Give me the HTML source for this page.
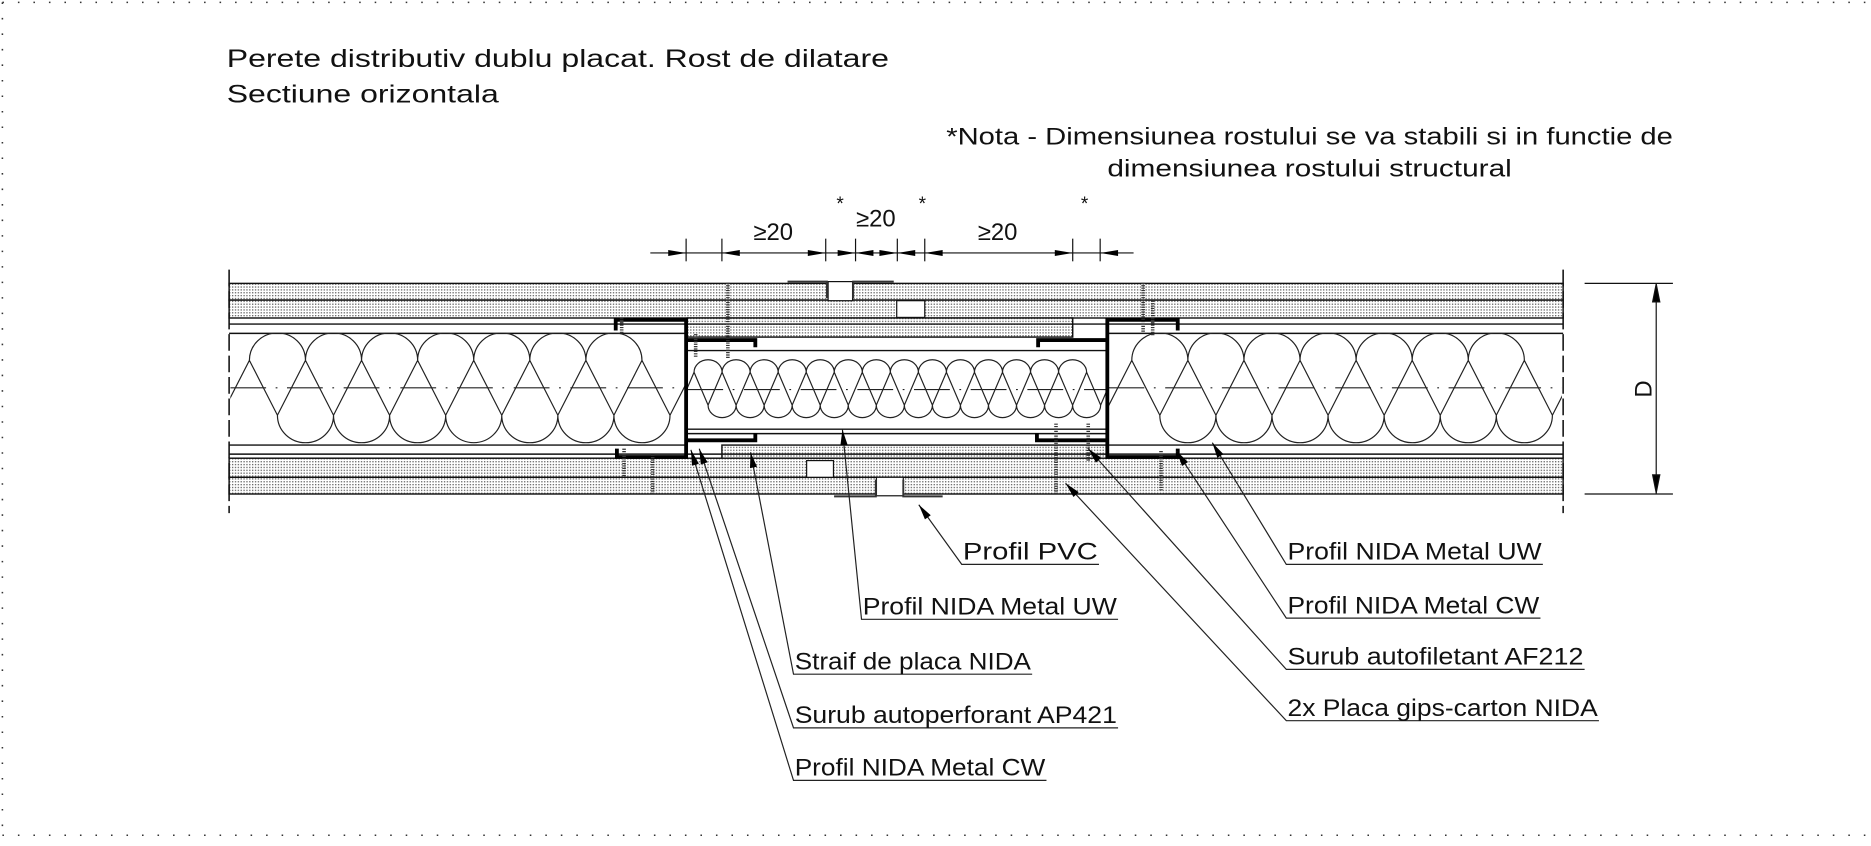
<!DOCTYPE html>
<html><head><meta charset="utf-8"><style>
html,body{margin:0;padding:0;background:#fff;}
svg{display:block;}
text{font-family:"Liberation Sans",sans-serif;fill:#111;}
</style></head><body>
<svg id="dwg" width="1871" height="846" viewBox="0 0 1568 709" xmlns="http://www.w3.org/2000/svg">
<defs>
<pattern id="dots" width="2.4" height="2.4" patternUnits="userSpaceOnUse"><rect width="2.4" height="2.4" fill="#fff"/><rect width="1.1" height="1.1" fill="#666"/></pattern>
<clipPath id="clipL"><rect x="193" y="279" width="382" height="95"/></clipPath>
<clipPath id="clipM"><rect x="576" y="294" width="351" height="66"/></clipPath>
<clipPath id="clipR"><rect x="929" y="279" width="380" height="95"/></clipPath>
</defs>
<g stroke="#333" stroke-width="1.3" stroke-dasharray="1.3 11.7" fill="none">
<line x1="2" y1="2" x2="1566" y2="2"/><line x1="2" y1="2" x2="2" y2="700"/><line x1="2" y1="700" x2="1566" y2="700"/>
</g>
<g font-size="21">
<text x="190" y="56" textLength="555" lengthAdjust="spacingAndGlyphs">Perete distributiv dublu placat. Rost de dilatare</text>
<text x="190" y="86" textLength="228" lengthAdjust="spacingAndGlyphs">Sectiune orizontala</text>
</g>
<g font-size="20">
<text x="793" y="121" textLength="609" lengthAdjust="spacingAndGlyphs">*Nota - Dimensiunea rostului se va stabili si in functie de</text>
<text x="928" y="148" textLength="339" lengthAdjust="spacingAndGlyphs">dimensiunea rostului structural</text>
</g>
<g id="boards" stroke="#111" stroke-width="1.2" fill="url(#dots)">
<rect x="192" y="237.5" width="1118" height="14"/>
<rect x="192" y="251.5" width="1118" height="15"/>
<rect x="576" y="266.5" width="323" height="16"/>
<rect x="605" y="373" width="323" height="11"/>
<rect x="192" y="384" width="1118" height="16"/>
<rect x="192" y="400" width="1118" height="14"/>
</g>
<g fill="#fff" stroke="#111" stroke-width="1">
<rect x="694" y="236" width="20.5" height="16"/>
<rect x="751.5" y="252" width="23.5" height="14"/>
<rect x="676" y="386" width="22.5" height="14"/>
<rect x="734.5" y="400" width="22.5" height="15.5"/>
</g>
<g stroke="#111" stroke-width="1.2" fill="none">
<line x1="192" y1="271.6" x2="1310" y2="271.6"/><line x1="192" y1="279.4" x2="575" y2="279.4"/><line x1="928" y1="279.4" x2="1310" y2="279.4"/>
<line x1="192" y1="373" x2="575" y2="373"/><line x1="928" y1="373" x2="1310" y2="373"/><line x1="192" y1="380.6" x2="1310" y2="380.6"/>
<line x1="575" y1="293.8" x2="928" y2="293.8"/><line x1="575" y1="359.7" x2="928" y2="359.7"/><line x1="575" y1="363.4" x2="928" y2="363.4"/>
</g>
<g stroke="#111" stroke-width="1.3" stroke-dasharray="14 4">
<line x1="192" y1="226" x2="192" y2="430"/><line x1="1310" y1="226" x2="1310" y2="430"/>
</g>
<g stroke="#333" stroke-width="1.6" fill="none">
<path d="M660 236 H693 V250"/><path d="M715 250 V236 H749"/>
<path d="M699 416 H734 V402"/><path d="M757 402 V416 H790"/>
</g>
<g id="insul" stroke="#222" stroke-width="1" fill="none"></g>
<g stroke="#000" stroke-width="3.2" fill="none" stroke-linejoin="miter">
<path d="M516 277 V268 H575 V383 H517 V376"/>
<path d="M633 291 V285 H575"/><path d="M633 363 V369 H575"/>
<path d="M987 277 V268 H928 V383 H987 V376"/>
<path d="M870 291 V285 H928"/><path d="M869 363 V369 H928"/>
</g>
<g id="screws" stroke="#333" stroke-width="3" stroke-dasharray="1 1" fill="none"></g>
<g stroke="#111" stroke-width="1">
<line x1="545" y1="212" x2="950" y2="212"/>
<g id="ticks"></g>
</g>
<g id="arrows" fill="#000"></g>
<g font-size="20">
<text x="648" y="201" text-anchor="middle">≥20</text>
<text x="734" y="190" text-anchor="middle">≥20</text>
<text x="836" y="201" text-anchor="middle">≥20</text>
<text x="704" y="176" text-anchor="middle" font-size="16">*</text>
<text x="773" y="176" text-anchor="middle" font-size="16">*</text>
<text x="909" y="176" text-anchor="middle" font-size="16">*</text>
</g>
<g stroke="#111" stroke-width="1">
<line x1="1328" y1="237.5" x2="1402" y2="237.5"/><line x1="1328" y1="414" x2="1402" y2="414"/>
<line x1="1388" y1="237.5" x2="1388" y2="414"/>
<path d="M1388 238 L1385 253 L1391 253 Z" fill="#000"/><path d="M1388 413 L1385 398 L1391 398 Z" fill="#000"/>
<text x="1384" y="326" font-size="20" text-anchor="middle" transform="rotate(-90 1384 326)" stroke="none">D</text>
</g>
<g id="leaders" stroke="#222" stroke-width="1" fill="none"></g>
<g id="labels" font-size="20"></g>
</svg>
<script>
const NS='http://www.w3.org/2000/svg';
function mk(tag,attrs,parent){const e=document.createElementNS(NS,tag);for(const k in attrs)e.setAttribute(k,attrs[k]);parent.appendChild(e);return e;}
const insul=document.getElementById('insul');
function wool(x0,n,nb,r,ry,yt,yb,clip,yc,x1,x2){
  const g=mk('g',{'clip-path':'url(#'+clip+')'},insul);
  let d='';
  for(let i=0;i<n;i++){const c=x0+2*r*i;d+=`M${c-r} ${yt} A${r} ${ry} 0 0 1 ${c+r} ${yt} `;}
  for(let i=0;i<nb;i++){const c=x0+r+2*r*i;d+=`M${c-r} ${yb} A${r} ${ry} 0 0 0 ${c+r} ${yb} `;}
  for(let i=-1;i<=n;i++){const c=x0+2*r*i;d+=`M${c-r} ${yt} L${c} ${yb} L${c+r} ${yt} `;}
  mk('path',{d:d},g);
  mk('line',{x1:x1,y1:yc,x2:x2,y2:yc,'stroke-dasharray':'30 8 1.5 8'},g);
}
wool(232.5,7,7,23.5,23,302,348,'clipL',325,193,575);
wool(972,7,7,23.5,23,302,348,'clipR',325,929,1310);
wool(593.4,14,14,11.75,10.5,312,339.5,'clipM',326.5,576,928);
const screws=document.getElementById('screws');
[[610,237,300],[521,266,280],[583,280,300],[547,381,414],[523,376,400],[885,355,414],[912,355,386],[958,237,278],[966,252,282],[973,378,412]].forEach(s=>{
  const l=mk('line',{x1:s[0],y1:s[1],x2:s[0],y2:s[2]},screws);
  
  
});
const ticks=document.getElementById('ticks');
[575,605,692,717,752,775,899,922].forEach(x=>{mk('line',{x1:x,y1:200,x2:x,y2:219},ticks);});
const arrows=document.getElementById('arrows');
[[575,1],[605,-1],[692,1],[717,1],[717,-1],[752,1],[752,-1],[775,-1],[899,1],[922,-1]].forEach(a=>{
  const x=a[0],s=a[1];
  mk('path',{d:`M${x} 212 L${x-s*15} 209.5 L${x-s*15} 214.5 Z`},arrows);
});
const leaders=document.getElementById('leaders'),labels=document.getElementById('labels');
const callouts=[
 ['Profil PVC',806,469,921,770,423],
 ['Profil NIDA Metal UW',722,515,937,706,360],
 ['Straif de placa NIDA',665,561,865,629,379],
 ['Surub autoperforant AP421',665,606,937,586,376],
 ['Profil NIDA Metal CW',665,650,877,579,377],
 ['Profil NIDA Metal UW',1078,469,1293,1016,371],
 ['Profil NIDA Metal CW',1078,514,1291,986,378],
 ['Surub autofiletant AF212',1078,557,1328,912,376],
 ['2x Placa gips-carton NIDA',1078,600,1340,893,405]
];
callouts.forEach(c=>{
  const [t,x,y,xe,tx,ty]=c;
  const uy=y+4;
  mk('path',{d:`M${xe} ${uy} H${x} L${tx} ${ty}`},leaders);
  const ang=Math.atan2(ty-uy,tx-x);const L=13,W=3;
  const bx=tx-Math.cos(ang)*L,by=ty-Math.sin(ang)*L,px=-Math.sin(ang)*W,py=Math.cos(ang)*W;
  mk('path',{d:`M${tx} ${ty} L${bx+px} ${by+py} L${bx-px} ${by-py} Z`,fill:'#000',stroke:'none'},leaders);
  const e=mk('text',{x:x+1,y:y,textLength:xe-x-2,lengthAdjust:'spacingAndGlyphs'},labels);
  
  
  e.textContent=t;
});
</script>
</body></html>
